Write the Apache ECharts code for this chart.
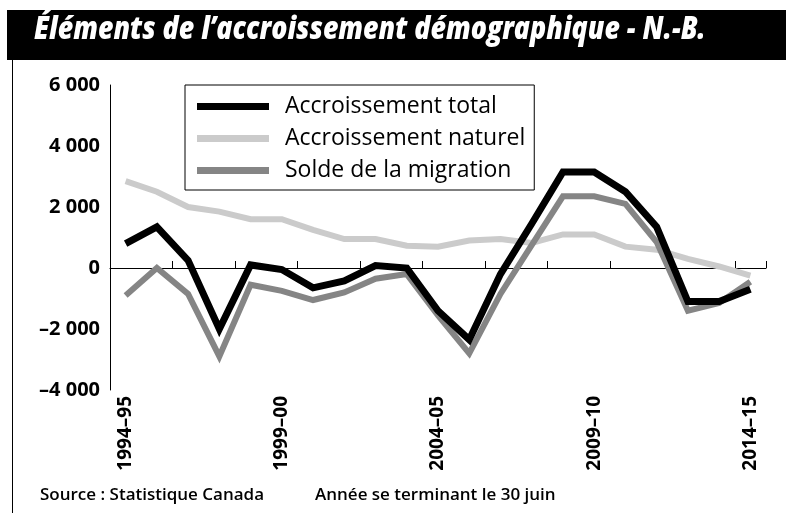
<!DOCTYPE html>
<html>
<head>
<meta charset="utf-8">
<script src="https://cdn.jsdelivr.net/npm/echarts@6/dist/echarts.min.js"></script>
<style>
  html, body { margin: 0; padding: 0; background: #fff; }
  #chart { width: 786px; height: 513px; }
</style>
</head>
<body>
<div id="chart"></div>
<script>
// années (se terminant le 30 juin)
var categories = ['1994–95','1995–96','1996–97','1997–98','1998–99','1999–00','2000–01','2001–02','2002–03','2003–04',
                  '2004–05','2005–06','2006–07','2007–08','2008–09','2009–10','2010–11','2011–12','2012–13','2013–14','2014–15'];
var accroissementTotal = [800, 1350, 250, -2000, 100, -50, -650, -420, 80, 0, -1400, -2350, -200, 1450, 3150, 3150, 2500, 1350, -1100, -1100, -700];
var accroissementNaturel = [2850, 2500, 2000, 1850, 1600, 1600, 1250, 950, 950, 730, 700, 900, 950, 820, 1100, 1100, 700, 600, 300, 50, -250];
var soldeMigration = [-900, 0, -850, -2900, -550, -750, -1050, -800, -350, -200, -1550, -2800, -850, 750, 2350, 2350, 2100, 850, -1400, -1150, -450];
var yTicks = { min: -4000, max: 6000, interval: 2000 };

var font = '"Open Sans", "Noto Sans", sans-serif';

function fmtNombre(v) {
  var s = Math.abs(v).toString().replace(/\B(?=(\d{3})+(?!\d))/g, ' ');
  return (v < 0 ? '\u2013' : '') + s;
}

var chart = echarts.init(document.getElementById('chart'));
chart.setOption({
  animation: false,
  backgroundColor: '#fff',
  grid: { left: 110, right: 20, top: 85, bottom: 123 },
  graphic: [
    // bandeau du titre
    { type: 'rect', left: 7, top: 10, shape: { width: 779, height: 50 }, style: { fill: '#000' } },
    { type: 'line', shape: { x1: 12.5, y1: 60, x2: 12.5, y2: 513 }, style: { stroke: '#000', lineWidth: 1 } },
    // titre un peu condensé pour imiter la police d'origine
    { type: 'text', x: 34, y: 14, scaleX: 0.835,
      style: { text: 'Éléments de l’accroissement démographique - N.-B.', fill: '#fff',
               font: 'italic 800 32px ' + font } },
    { type: 'text', left: 40, top: 487,
      style: { text: 'Source : Statistique Canada', fill: '#000', font: '600 17px ' + font } },
    { type: 'text', left: 315, top: 487,
      style: { text: 'Année se terminant le 30 juin', fill: '#000', font: '600 17px ' + font } }
  ],
  legend: {
    orient: 'vertical',
    left: 185, top: 85,
    padding: [10, 9, 8, 12],
    itemGap: 9,
    itemWidth: 72, itemHeight: 7,
    icon: 'rect',
    borderColor: '#000', borderWidth: 1,
    textStyle: { fontFamily: font, fontSize: 23, fontWeight: 500, color: '#000', padding: [0, 0, 0, 11] },
    data: ['Accroissement total', 'Accroissement naturel', 'Solde de la migration']
  },
  xAxis: [
    {
      type: 'category', data: categories, boundaryGap: true,
      position: 'bottom', axisLine: { show: false, onZero: false }, axisTick: { show: false },
      axisLabel: { interval: 4, rotate: 90, margin: 6, color: '#000', fontFamily: font, fontWeight: 'bold', fontSize: 19 }
    },
    {
      type: 'category', data: categories, boundaryGap: true,
      position: 'bottom',
      axisLine: { show: true, onZero: true, lineStyle: { color: '#000', width: 1 } },
      axisTick: { show: true, inside: true, length: 7, lineStyle: { color: '#000' } },
      axisLabel: { show: false }
    }
  ],
  yAxis: {
    type: 'value', min: yTicks.min, max: yTicks.max, interval: yTicks.interval,
    axisLine: { show: true, lineStyle: { color: '#000', width: 1 } },
    axisTick: { show: false }, splitLine: { show: false },
    axisLabel: { margin: 10, color: '#000', fontFamily: font, fontWeight: 'bold', fontSize: 20, formatter: fmtNombre }
  },
  series: [
    { name: 'Accroissement total', type: 'line', data: accroissementTotal, z: 4, symbol: 'none',
      color: '#000', lineStyle: { color: '#000', width: 7, join: 'miter' } },
    { name: 'Accroissement naturel', type: 'line', data: accroissementNaturel, z: 2, symbol: 'none',
      color: '#cbcbcb', lineStyle: { color: '#cbcbcb', width: 6, join: 'miter' } },
    { name: 'Solde de la migration', type: 'line', data: soldeMigration, z: 3, symbol: 'none',
      color: '#858585', lineStyle: { color: '#858585', width: 6, join: 'miter' } }
  ]
});
</script>
</body>
</html>
